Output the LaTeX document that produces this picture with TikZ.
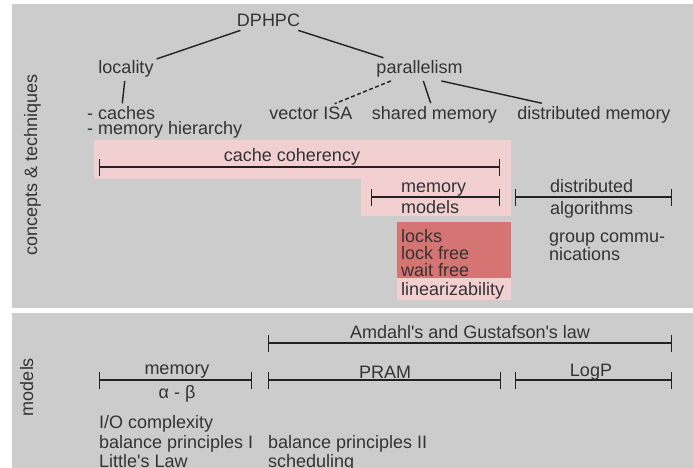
\documentclass[tikz,border=0pt]{standalone}
\usepackage{fontspec}
\setmainfont{Liberation Sans}
\usetikzlibrary{arrows.meta}
\definecolor{bg}{HTML}{CCCCCC}
\definecolor{pinkbg}{HTML}{F2D0D2}
\definecolor{redbg}{HTML}{D57573}
\definecolor{txt}{HTML}{333333}
\definecolor{ln}{HTML}{222222}
\begin{document}
\begin{tikzpicture}[x=1pt,y=-1pt,
 lbl/.style={font=\fontsize{18}{20}\selectfont, text=txt, inner sep=3pt},
 barline/.style={draw=ln, line width=1.4pt, {Bar[width=17pt]}-{Bar[width=17pt]}},
 conn/.style={draw=ln, line width=1.4pt},
]
\useasboundingbox (0,0) rectangle (693,468);
\fill[white] (0,0) rectangle (693,468);
\fill[bg] (12,4) rectangle (693,308);
\fill[bg] (12,313) rectangle (693,468);
\fill[pinkbg] (94,140) rectangle (511,179);
\fill[pinkbg] (361,179) rectangle (511,216);
\fill[redbg] (397,222) rectangle (511,278);
\fill[pinkbg] (397,278) rectangle (511,300);

% side labels
\node[lbl, rotate=90, anchor=base] (ct) at (37,165) {concepts \& techniques};
\node[lbl, rotate=90, anchor=base] (md) at (33,387) {models};

% tree
\node[lbl, anchor=base] (dphpc) at (268.5,27) {DPHPC};
\node[lbl, anchor=base] (locality) at (126,74) {locality};
\node[lbl, anchor=base] (parallelism) at (419.5,74) {parallelism};
\node[lbl, anchor=base west] (caches) at (84,119.5) {- caches};
\node[lbl, anchor=base west] (memh) at (84,134.5) {- memory hierarchy};
\node[lbl, anchor=base] (vector) at (311,119.5) {vector ISA};
\node[lbl, anchor=base] (shared) at (434.5,119.5) {shared memory};
\node[lbl, anchor=base] (distmem) at (594,119.5) {distributed memory};

\draw[conn] (dphpc) -- (locality);
\draw[conn] (dphpc) -- (parallelism);
\draw[conn] (locality) -- (caches);
\draw[conn, dash pattern=on 4pt off 2.5pt] (parallelism) -- (vector);
\draw[conn] (parallelism) -- (shared);
\draw[conn] (parallelism.-28) -- (distmem);

% concept bars
\coordinate (cc1) at (99,167); \coordinate (cc2) at (500,167);
\draw[barline] (cc1) -- (cc2);
\node[lbl, anchor=base] (cache) at (292,161) {cache coherency};

\coordinate (mm1) at (371,197); \coordinate (mm2) at (500,197);
\draw[barline] (mm1) -- (mm2);
\node[lbl, anchor=base west] (mem1) at (398,192) {memory};
\node[lbl, anchor=base west] (mod1) at (398,213) {models};

\coordinate (da1) at (515,197); \coordinate (da2) at (672,197);
\draw[barline] (da1) -- (da2);
\node[lbl, anchor=base west] (dist) at (547,192) {distributed};
\node[lbl, anchor=base west] (alg) at (547,214) {algorithms};

\node[lbl, anchor=base west] (locks) at (398,242) {locks};
\node[lbl, anchor=base west] (lockfree) at (398,259) {lock free};
\node[lbl, anchor=base west] (waitfree) at (398,276) {wait free};
\node[lbl, anchor=base west] (lin) at (398,295) {linearizability};

\node[lbl, anchor=base west] (grp) at (546,242) {group commu-};
\node[lbl, anchor=base west] (nic) at (546,260) {nications};

% models panel
\coordinate (am1) at (268,343); \coordinate (am2) at (672,343);
\draw[barline] (am1) -- (am2);
\node[lbl, anchor=base] (amdahl) at (470,338) {Amdahl\textquotesingle s and Gustafson\textquotesingle s law};

\coordinate (me1) at (99,380); \coordinate (me2) at (252,380);
\draw[barline] (me1) -- (me2);
\node[lbl, anchor=base] (mem2) at (177,374) {memory};
\node[lbl, anchor=base] (ab) at (177,398) {α - β};

\coordinate (pr1) at (268,380); \coordinate (pr2) at (501,380);
\draw[barline] (pr1) -- (pr2);
\node[lbl, anchor=base] (pram) at (385,378) {PRAM};

\coordinate (lp1) at (515,380); \coordinate (lp2) at (672,380);
\draw[barline] (lp1) -- (lp2);
\node[lbl, anchor=base] (logp) at (591,376) {LogP};

\node[lbl, anchor=base west] (io) at (96,428) {I/O complexity};
\node[lbl, anchor=base west] (bp1) at (96,448) {balance principles I};
\node[lbl, anchor=base west] (ll) at (96,467) {Little\textquotesingle s Law};
\node[lbl, anchor=base west] (bp2) at (265,448) {balance principles II};
\node[lbl, anchor=base west] (sch) at (265,467) {scheduling};
\end{tikzpicture}
\end{document}
